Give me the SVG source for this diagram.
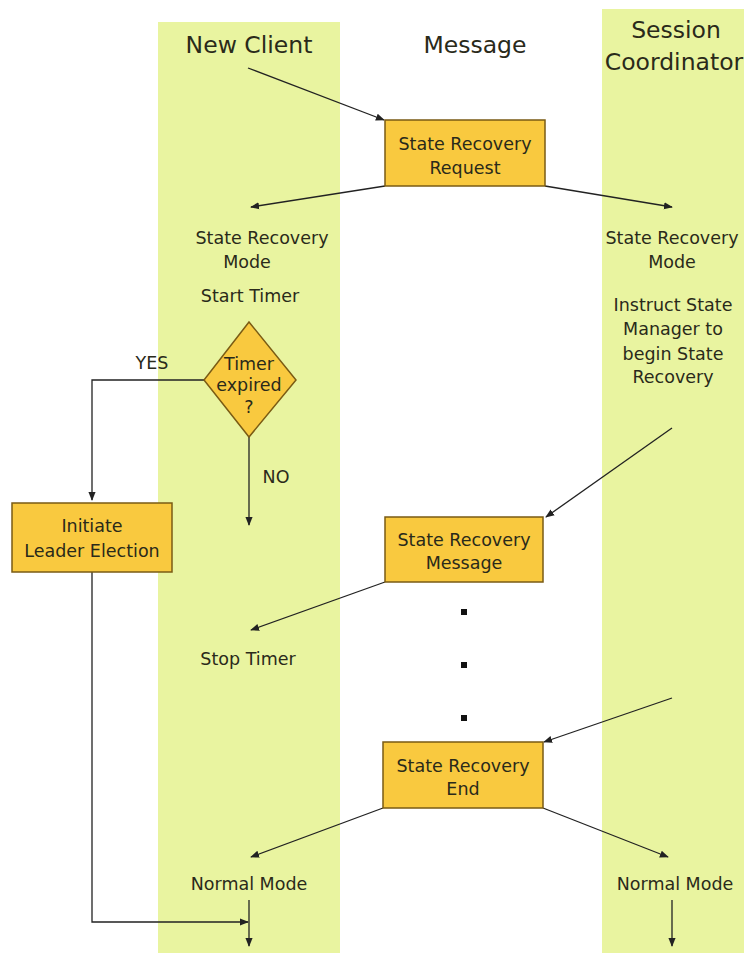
<svg xmlns="http://www.w3.org/2000/svg" width="744" height="953" viewBox="0 0 744 953">
<style>
.lane{fill:#E9F4A0}
.box{fill:#F9C93F;stroke:#7A5B14;stroke-width:1.5}
.t{font-family:"DejaVu Sans",Verdana,sans-serif;font-size:17.5px;fill:#2a2a1a;text-anchor:middle}
.h{font-family:"DejaVu Sans",Verdana,sans-serif;font-size:23.5px;fill:#2a2a1a;text-anchor:middle}
.c{stroke:#222;stroke-width:1.3;fill:none}
</style>
<defs>
<marker id="a" viewBox="0 0 10 10" refX="9" refY="5" markerWidth="9" markerHeight="9" markerUnits="userSpaceOnUse" orient="auto">
<path d="M0,1 L10,5 L0,9 z" fill="#222"/>
</marker>
</defs>
<rect class="lane" x="158" y="22" width="182" height="931"/>
<rect class="lane" x="602" y="9" width="142" height="944"/>
<g id="headers">
<text class="h" x="249" y="53">New Client</text>
<text class="h" x="475" y="53">Message</text>
<text class="h" x="676" y="38">Session</text>
<text class="h" x="674" y="70">Coordinator</text>
</g>
<g id="connectors">
<line class="c" x1="248" y1="68" x2="384" y2="120" marker-end="url(#a)"/>
<line class="c" x1="385" y1="186" x2="251" y2="207" marker-end="url(#a)"/>
<line class="c" x1="545" y1="186" x2="672" y2="207" marker-end="url(#a)"/>
<polyline class="c" points="204,380 92,380 92,500" marker-end="url(#a)"/>
<line class="c" x1="249" y1="437" x2="249" y2="525" marker-end="url(#a)"/>
<polyline class="c" points="92,572 92,922 248,922" marker-end="url(#a)"/>
<line class="c" x1="672" y1="428" x2="546" y2="517" marker-end="url(#a)"/>
<line class="c" x1="385" y1="582" x2="251" y2="630" marker-end="url(#a)"/>
<line class="c" x1="672" y1="698" x2="544" y2="742" marker-end="url(#a)"/>
<line class="c" x1="383" y1="808" x2="251" y2="857" marker-end="url(#a)"/>
<line class="c" x1="543" y1="808" x2="668" y2="857" marker-end="url(#a)"/>
<line class="c" x1="249" y1="900" x2="249" y2="946" marker-end="url(#a)"/>
<line class="c" x1="672" y1="900" x2="672" y2="946" marker-end="url(#a)"/>
</g>
<g id="labels">
<text class="t" x="152" y="369">YES</text>
<text class="t" x="276" y="483">NO</text>
</g>
<g id="srr">
<rect class="box" x="385" y="120" width="160" height="66"/>
<text class="t" x="465" y="150">State Recovery</text>
<text class="t" x="465" y="174">Request</text>
</g>
<g id="nc-srm">
<text class="t" x="262" y="244">State Recovery</text>
<text class="t" x="247" y="268">Mode</text>
<text class="t" x="250" y="302">Start Timer</text>
</g>
<g id="timer">
<polygon class="box" points="249,322 296,380 249,437 204,380"/>
<text class="t" x="249" y="370">Timer</text>
<text class="t" x="249" y="391">expired</text>
<text class="t" x="249" y="413">?</text>
</g>
<g id="ile">
<rect class="box" x="12" y="503" width="160" height="69"/>
<text class="t" x="92" y="532">Initiate</text>
<text class="t" x="92" y="557">Leader Election</text>
</g>
<g id="sc-srm">
<text class="t" x="672" y="244">State Recovery</text>
<text class="t" x="672" y="268">Mode</text>
<text class="t" x="673" y="311">Instruct State</text>
<text class="t" x="673" y="335">Manager to</text>
<text class="t" x="673" y="360">begin State</text>
<text class="t" x="673" y="383">Recovery</text>
</g>
<g id="srmsg">
<rect class="box" x="385" y="517" width="158" height="65"/>
<text class="t" x="464" y="546">State Recovery</text>
<text class="t" x="464" y="569">Message</text>
</g>
<g id="stop">
<text class="t" x="248" y="665">Stop Timer</text>
</g>
<g id="dots">
<rect x="461" y="609" width="6" height="6" fill="#111"/>
<rect x="461" y="662" width="6" height="6" fill="#111"/>
<rect x="461" y="715" width="6" height="6" fill="#111"/>
</g>
<g id="sre">
<rect class="box" x="383" y="742" width="160" height="66"/>
<text class="t" x="463" y="772">State Recovery</text>
<text class="t" x="463" y="795">End</text>
</g>
<g id="nm-left">
<text class="t" x="249" y="890">Normal Mode</text>
</g>
<g id="nm-right">
<text class="t" x="675" y="890">Normal Mode</text>
</g>
</svg>
